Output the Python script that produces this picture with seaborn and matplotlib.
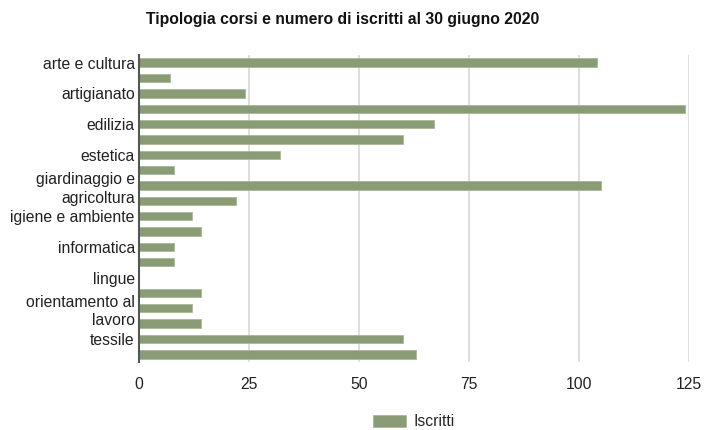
import matplotlib
matplotlib.use("Agg")
import matplotlib.pyplot as plt
import seaborn as sns
import pandas as pd

sns.set_theme(style="white")
plt.rcParams["font.family"] = ["Liberation Sans", "DejaVu Sans"]

# Course types (one label every other bar, long names wrapped)
labels = [
    "arte e cultura", "", "artigianato", "", "edilizia", "", "estetica", "",
    "giardinaggio e\nagricoltura", "", "igiene e ambiente", "", "informatica", "",
    "lingue", "", "orientamento al\nlavoro", "", "tessile", "",
]
iscritti = [104, 7, 24, 124, 67, 60, 32, 8, 105, 22,
            12, 14, 8, 8, 0, 14, 12, 14, 60, 63]
ticks_x = [0, 25, 50, 75, 100, 125]

bar_color = "#8a9c75"
fs = 11.3

df = pd.DataFrame({
    "pos": [str(i) for i in range(len(iscritti))],
    "Iscritti": iscritti,
})

fig = plt.figure(figsize=(7.04, 4.30), dpi=100)
ax = fig.add_axes([139 / 704, 1 - 362 / 430, 550 / 704, 307 / 430])

sns.barplot(data=df, x="Iscritti", y="pos", orient="h", color=bar_color,
            width=0.55, saturation=1, edgecolor="#a9b898", linewidth=0.6,
            label="Iscritti", ax=ax)

ax.set_xlim(0, 125)
ax.set_xticks(ticks_x)
ax.set_xticklabels([str(t) for t in ticks_x], fontsize=fs, color="#222222")
ax.set_yticks(range(len(labels)))
ax.set_yticklabels(labels, fontsize=fs, color="#222222", linespacing=1.3)
ax.set_xlabel("")
ax.set_ylabel("")
ax.tick_params(axis="x", length=0, pad=11)
ax.tick_params(axis="y", length=0, pad=3)

ax.grid(axis="x", color="#d8d8d8", linewidth=1.2)
ax.set_axisbelow(True)
for side in ("top", "right", "bottom"):
    ax.spines[side].set_visible(False)
ax.spines["left"].set_color("#555555")
ax.spines["left"].set_linewidth(1.5)

fig.suptitle("Tipologia corsi e numero di iscritti al 30 giugno 2020",
             x=0.487, y=1 - 12 / 430, fontsize=fs, fontweight="bold", color="#111111")

handles, leg_labels = ax.get_legend_handles_labels()
if ax.get_legend() is not None:
    ax.get_legend().remove()
fig.legend(handles, leg_labels, loc="center", bbox_to_anchor=(414 / 704, 1 - 422 / 430),
           frameon=False, fontsize=fs, handlelength=2.1, handleheight=0.8,
           handletextpad=0.5)

fig.savefig("out.png", dpi=100)
